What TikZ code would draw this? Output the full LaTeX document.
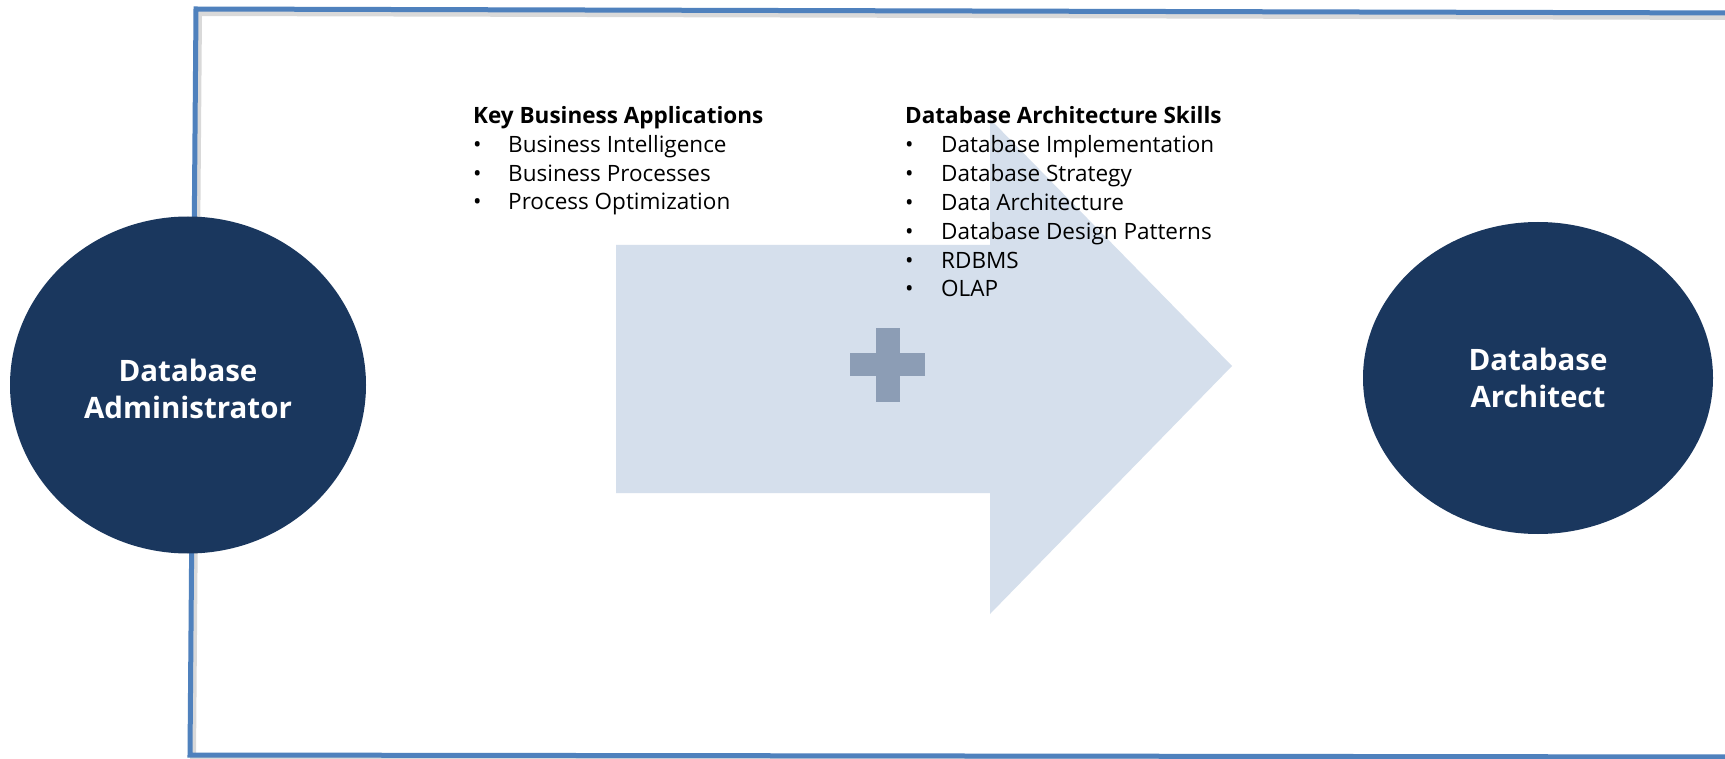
\documentclass[tikz,border=0pt]{standalone}
\usepackage{fontspec}
\setmainfont{Open Sans}
\usetikzlibrary{shapes.geometric}
\definecolor{navy}{HTML}{1A375E}
\definecolor{frameblue}{HTML}{4F81BD}
\definecolor{arrowfill}{HTML}{D5DFEC}
\definecolor{plusfill}{HTML}{8C9DB5}
\begin{document}
\begin{tikzpicture}[x=1pt,y=-1pt,
  framestyle/.style={draw=frameblue,line width=5pt,line join=miter},
  shadowstyle/.style={draw=black,opacity=0.15,line width=6pt},
  rolecircle/.style={ellipse,fill=navy,inner sep=0pt,text=white,align=center,
    font=\fontsize{29.5}{37}\selectfont\bfseries},
  headtext/.style={anchor=base west,inner sep=0pt,font=\fontsize{22.5}{28.6}\selectfont\bfseries},
  itemtext/.style={anchor=base west,inner sep=0pt,font=\fontsize{22.5}{28.6}\selectfont},
  bullettext/.style={anchor=base west,inner sep=0pt,font=\fontsize{22.5}{28.6}\selectfont}]
\useasboundingbox (0,0) rectangle (1725,759);
\clip (0,0) rectangle (1725,759);
\fill[white] (0,0) rectangle (1725,759);
% frame with soft shadow
\draw[shadowstyle] (1745,17) -- (199,13) -- (193,759) -- (1745,761);
\draw[framestyle] (1745,13) -- (196,9) -- (190,755) -- (1745,757);
% arrow
\fill[arrowfill] (616,245) -- (990,245) -- (990,119) -- (1232,366) -- (990,614) -- (990,493) -- (616,493) -- cycle;
% plus
\fill[plusfill] (850,353) rectangle (925,376);
\fill[plusfill] (876,328) rectangle (900,402);
% left text block
\node[headtext] (h1) at (473,124) {Key Business Applications};
\foreach \t/\y [count=\i] in {Business Intelligence/153, Business Processes/182, Process Optimization/210}{
  \node[bullettext] (b1\i) at (473,\y) {•};
  \node[itemtext] (l1\i) at (508,\y) {\t};
}
% right text block
\node[headtext] (h2) at (905,124) {Database Architecture Skills};
\foreach \t/\y [count=\i] in {Database Implementation/153, Database Strategy/182, Data Architecture/211, Database Design Patterns/240, RDBMS/269, OLAP/297}{
  \node[bullettext] (b2\i) at (905,\y) {•};
  \node[itemtext] (l2\i) at (941,\y) {\t};
}
% circles
\node[rolecircle,minimum width=356pt,minimum height=337pt] (dba) at (188,385) {};
\node[text=white,align=center,font=\fontsize{29.5}{37}\selectfont\bfseries] (dbalabel) at ([yshift=-4pt]dba.center) {Database\\Administrator};
\node[rolecircle,minimum width=350pt,minimum height=312pt] (arch) at (1538,378) {Database\\Architect};
\end{tikzpicture}
\end{document}
